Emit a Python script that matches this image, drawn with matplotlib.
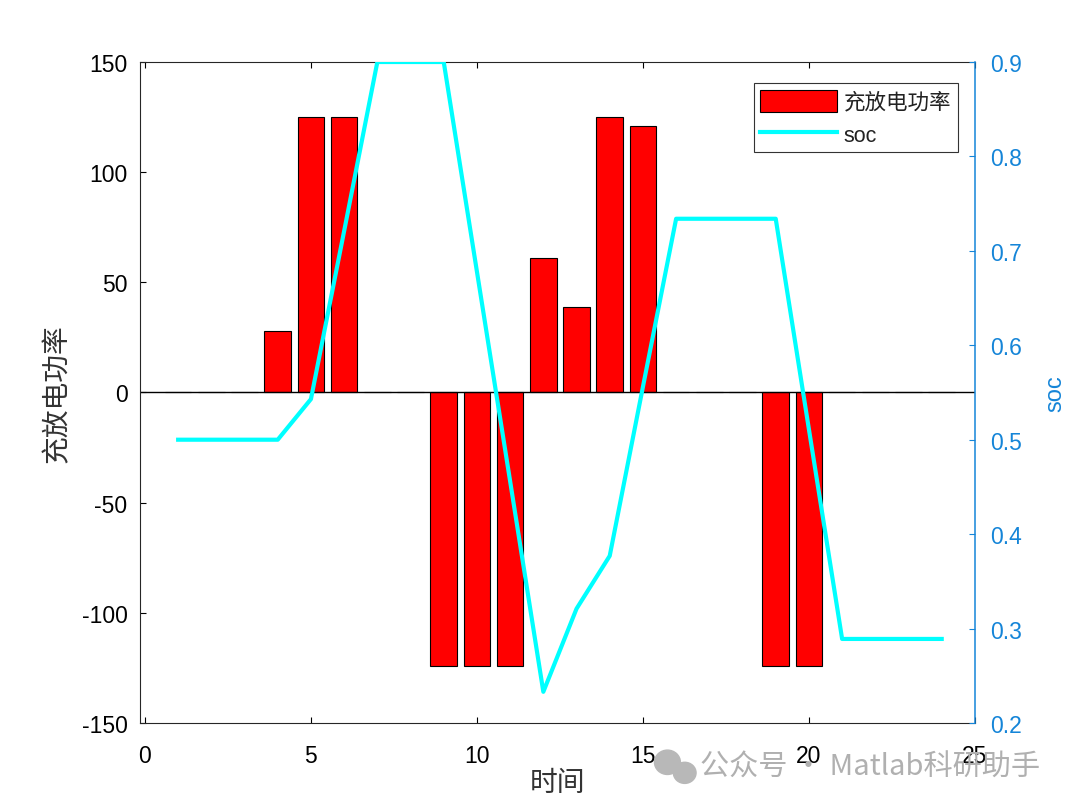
import matplotlib
matplotlib.use('Agg')
import matplotlib.pyplot as plt
from matplotlib.patches import Ellipse

plt.rcParams['font.family'] = ['Liberation Sans', 'Noto Sans CJK SC', 'DejaVu Sans']
plt.rcParams['axes.unicode_minus'] = False

# hourly data
hours = list(range(1, 25))
power = [0, 0, 0, 28, 125, 125, 0, 0, -124, -124, -124, 61,
         39, 125, 121, 0, 0, 0, -124, -124, 0, 0, 0, 0]
soc = [0.5, 0.5, 0.5, 0.5, 0.543, 0.721, 0.9, 0.9, 0.9, 0.678, 0.456, 0.233,
       0.321, 0.377, 0.556, 0.734, 0.734, 0.734, 0.734, 0.511, 0.289, 0.289, 0.289, 0.289]

left_ticks = [-150, -100, -50, 0, 50, 100, 150]
right_ticks = [0.2, 0.3, 0.4, 0.5, 0.6, 0.7, 0.8, 0.9]
x_ticks = [0, 5, 10, 15, 20, 25]

blue = '#1585D8'

fig = plt.figure(figsize=(10.8, 8.12), dpi=100)
ax = fig.add_axes([0.1296, 0.1084, 0.7731, 0.8140])

# bars + baseline
bars = ax.bar(hours, power, width=0.8, color='red', edgecolor='black',
              linewidth=0.8, label='充放电功率')
ax.axhline(0, color='black', lw=1)
ax.set_xlim(-0.15, 25)
ax.set_ylim(-150, 150)
ax.set_xticks(x_ticks)
ax.set_yticks(left_ticks)
ax.tick_params(axis='both', direction='in', length=4, labelsize=16.5, colors='black')
ax.tick_params(axis='x', pad=15, top=True)
ax.tick_params(axis='y', pad=9)
ax.set_ylabel('充放电功率', fontsize=20, color='#333333', labelpad=8)
ax.set_xlabel('时间', fontsize=20, color='#333333', labelpad=2)
for s in ax.spines.values():
    s.set_color('#262626')
ax.spines['right'].set_visible(False)

# soc line on second axis
ax2 = ax.twinx()
line, = ax2.plot(hours, soc, color='cyan', lw=3, label='soc')
ax2.set_ylim(0.2, 0.9)
ax2.set_yticks(right_ticks)
ax2.tick_params(axis='y', direction='in', length=4, labelsize=16.5, colors=blue, pad=11)
for side in ['left', 'top', 'bottom']:
    ax2.spines[side].set_visible(False)
ax2.spines['right'].set_edgecolor(blue)
ax2.spines['right'].set_linewidth(1.1)
ax2.set_ylabel('soc', fontsize=17, color=blue, labelpad=16)

leg = ax2.legend([bars, line], ['充放电功率', 'soc'], loc='upper right',
                 bbox_to_anchor=(0.9796, 0.968), borderaxespad=0, fancybox=False,
                 framealpha=1, edgecolor='#333333', fontsize=15.5, handlelength=3.6,
                 handleheight=1.2, handletextpad=0.3, borderpad=0.3, labelspacing=0.45)
leg.get_frame().set_linewidth(0.8)
for t in leg.get_texts():
    t.set_color('#222222')

# watermark
fig.patches.append(Ellipse((0.618, 0.060), 0.024, 0.030, transform=fig.transFigure,
                           color='#b8b8b8', zorder=5))
fig.patches.append(Ellipse((0.634, 0.047), 0.021, 0.026, transform=fig.transFigure,
                           color='#b8b8b8', zorder=5))
fig.text(0.648, 0.054, '公众号 · Matlab科研助手', fontsize=21, color='#b0b0b0',
         va='center', ha='left', family=['Noto Sans CJK SC', 'DejaVu Sans'])

fig.savefig('out.png', dpi=100)
